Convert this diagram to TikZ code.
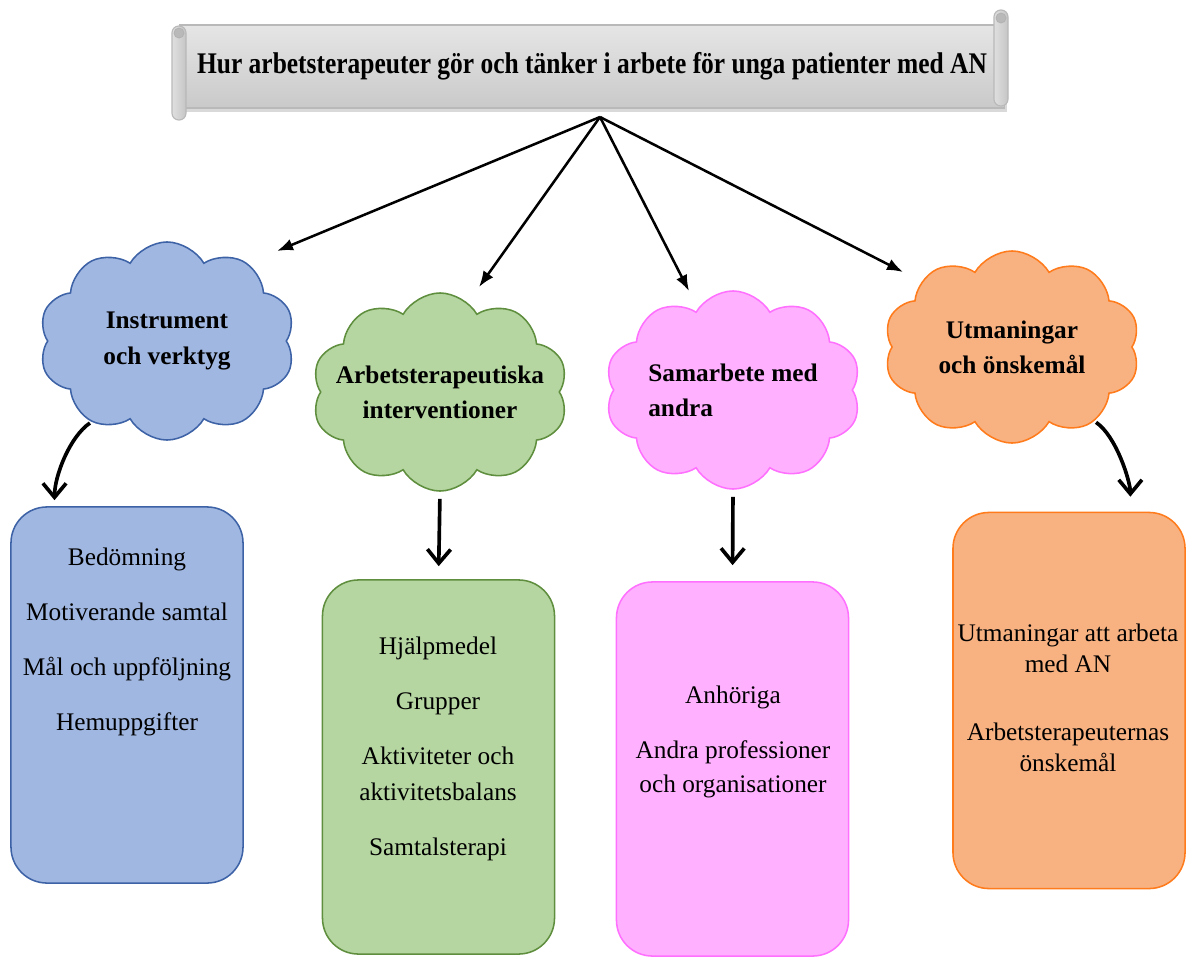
\documentclass[tikz,border=0pt]{standalone}
\usepackage{fontspec}
\setmainfont{Liberation Serif}
\usepackage{graphicx}
\usetikzlibrary{arrows.meta,positioning,shapes.symbols,shadows}

\definecolor{instfill}{HTML}{A0B7E1}
\definecolor{instline}{HTML}{3D62A6}
\definecolor{intfill}{HTML}{B5D6A1}
\definecolor{intline}{HTML}{5F8F3E}
\definecolor{samfill}{HTML}{FFB1FF}
\definecolor{samline}{HTML}{FF70FF}
\definecolor{utmfill}{HTML}{F8B282}
\definecolor{utmline}{HTML}{FF7B1C}

\begin{document}
\begin{tikzpicture}[x=0.025cm,y=-0.025cm,every node/.append style={align=center},
  banner/.style={rectangle,draw=gray!55,line width=0.8pt,top color=gray!20,bottom color=gray!42,minimum width=20.6cm,minimum height=2.075cm,inner sep=0pt,drop shadow={shadow xshift=2pt,shadow yshift=-3pt,opacity=0.3}},
  roll/.style={draw=gray!55,line width=0.8pt,left color=gray!25,right color=gray!45,rounded corners=0.17cm},
  curl/.style={fill=gray!55,draw=gray!60,line width=0.6pt},
  idea/.style={cloud,cloud puffs=10,cloud puff arc=120,cloud ignores aspect,draw,line width=1.1pt,minimum width=6.4cm,minimum height=4.95cm,inner sep=0pt,font=\fontsize{18}{25}\selectfont\bfseries},
  card/.style={rectangle,rounded corners=0.9cm,draw,line width=1.1pt,minimum width=5.8cm,minimum height=9.4cm},
  cardtext/.style={font=\fontsize{18}{26}\selectfont},
  spoke/.style={-{Latex[length=4mm,width=3mm]},line width=1.8pt},
  drop/.style={-{Straight Barb[length=3.5mm,width=5.8mm]},line width=2.6pt},
]
\useasboundingbox (0,0) rectangle (1186,956);

% heading scroll
\node[banner] (title) at (592,66.5) {\scalebox{0.85}[1]{\fontsize{21.3}{25}\selectfont\bfseries Hur arbetsterapeuter gör och tänker i arbete för unga patienter med AN}};
\draw[roll] (172,26) rectangle (186,120);
\draw[curl] (179,33) circle (5);
\draw[roll] (994,10) rectangle (1008,106);
\draw[curl] (1001,18) circle (5);
\coordinate (apex) at (600,117);

% themes
\node[idea,fill=instfill,draw=instline] (c1) at (167,341) {Instrument\\och verktyg};
\node[idea,fill=intfill,draw=intline,inner sep=-14pt] (c2) at (440,392) {Arbetsterapeutiska\\interventioner};
\node[idea,fill=samfill,draw=samline,align=left] (c3) at (733,390) {Samarbete med\\andra};
\node[idea,fill=utmfill,draw=utmline,minimum height=4.8cm] (c4) at (1012,347) {Utmaningar\\och önskemål};

% sub-themes
\node[card,fill=instfill,draw=instline] (b1) at (127,695) {};
\node[card,fill=intfill,draw=intline,minimum height=9.35cm] (b2) at (438.5,767) {};
\node[card,fill=samfill,draw=samline,minimum height=9.35cm] (b3) at (732.5,769) {};
\node[card,fill=utmfill,draw=utmline] (b4) at (1069,700.5) {};

\node[cardtext] (t1) at (127,642) {Bedömning\\[13pt]Motiverande samtal\\[13pt]Mål och uppföljning\\[13pt]Hemuppgifter};
\node[cardtext] (t2) at (438,749) {Hjälpmedel\\[13pt]Grupper\\[13pt]Aktiviteter och\\aktivitetsbalans\\[13pt]Samtalsterapi};
\node[cardtext,font=\fontsize{18}{24}\selectfont] (t3) at (733,742) {Anhöriga\\[15pt]Andra professioner\\och organisationer};
\node[cardtext,font=\fontsize{18}{22}\selectfont] (t4) at (1068,698) {Utmaningar att arbeta\\med AN\\[26pt]Arbetsterapeuternas\\önskemål};

% arrows
\coordinate (tip1) at (277,251);
\coordinate (tip2) at (479,287);
\coordinate (tip3) at (689,291);
\coordinate (tip4) at (903,272);
\foreach \t in {tip1,tip2,tip3,tip4}
  \draw[spoke] (apex) -- (\t);

\draw[drop,shorten <=0.05cm,shorten >=0.15cm] (c1.227) .. controls +(-22,15) and +(0,-30) .. (b1.111.5);
\draw[drop,shorten <=0.175cm,shorten >=0.325cm] (c2.south) -- (b2.north);
\draw[drop,shorten <=0.175cm,shorten >=0.4cm] (c3.south) -- (b3.north);
\draw[drop,shorten <=0.05cm,shorten >=0.375cm] (c4.318) .. controls +(22,15) and +(0,-30) .. (b4.72);
\end{tikzpicture}
\end{document}
